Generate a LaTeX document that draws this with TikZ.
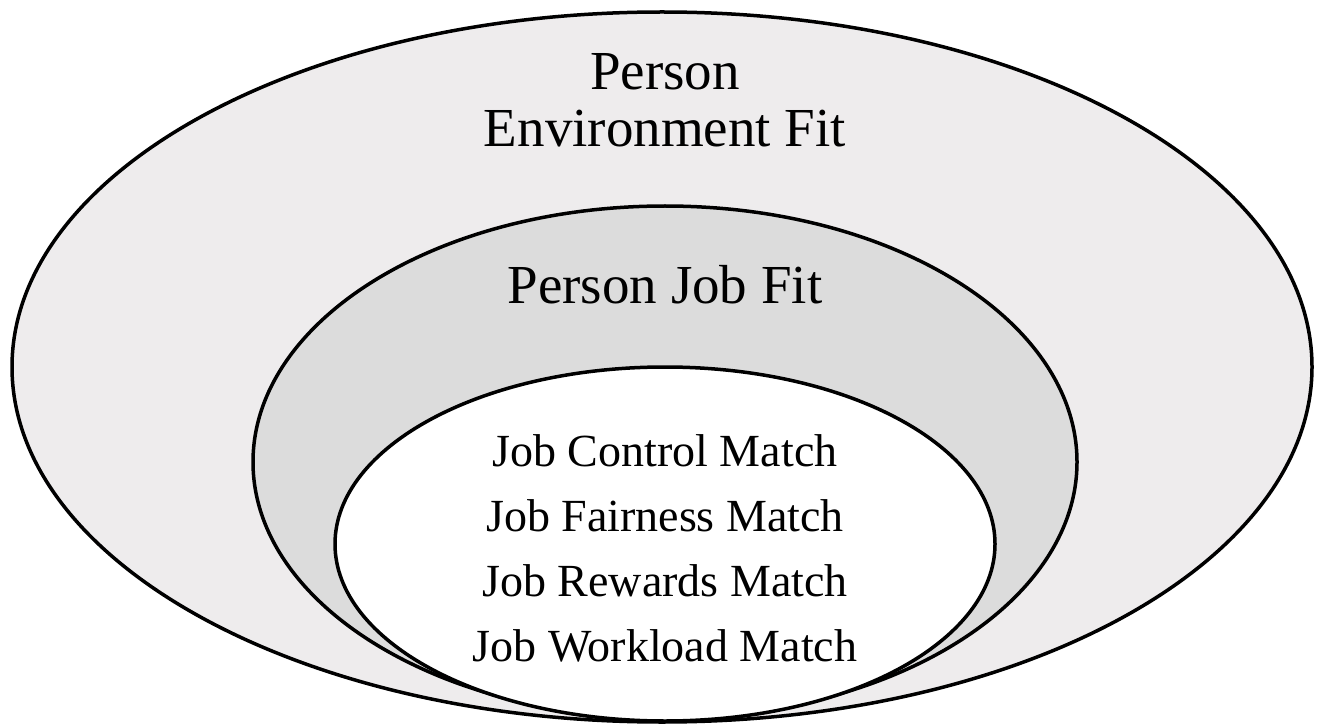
\documentclass[tikz,border=0pt]{standalone}
\usepackage{fontspec}
\setmainfont{Liberation Serif}
\definecolor{outerfill}{HTML}{EEECED}
\definecolor{midfill}{HTML}{DCDCDC}
\begin{document}
\begin{tikzpicture}[x=1pt,y=-1pt,
  ring/.style={draw=black,line width=3.5pt},
  biglabel/.style={anchor=base,inner sep=0pt,font=\fontsize{55}{56}\selectfont},
  smalllabel/.style={anchor=base,inner sep=0pt,font=\fontsize{46}{50}\selectfont}]
\useasboundingbox (0,0) rectangle (1322,727);
\fill[white] (0,0) rectangle (1322,727);
\draw[ring,fill=outerfill] (662,367) ellipse [x radius=650,y radius=355];
\draw[ring,fill=midfill] (665,462) ellipse [x radius=412,y radius=256];
\draw[ring,fill=white] (665,544) ellipse [x radius=330,y radius=177];
\node[biglabel] (pe1) at (665,90) {Person};
\node[biglabel] (pe2) at (665,147) {Environment Fit};
\node[biglabel] (pj) at (665,303) {Person Job Fit};
\node[smalllabel] (m1) at (665,466) {Job Control Match};
\node[smalllabel] (m2) at (665,531) {Job Fairness Match};
\node[smalllabel] (m3) at (665,596) {Job Rewards Match};
\node[smalllabel] (m4) at (665,661) {Job Workload Match};
\end{tikzpicture}
\end{document}
